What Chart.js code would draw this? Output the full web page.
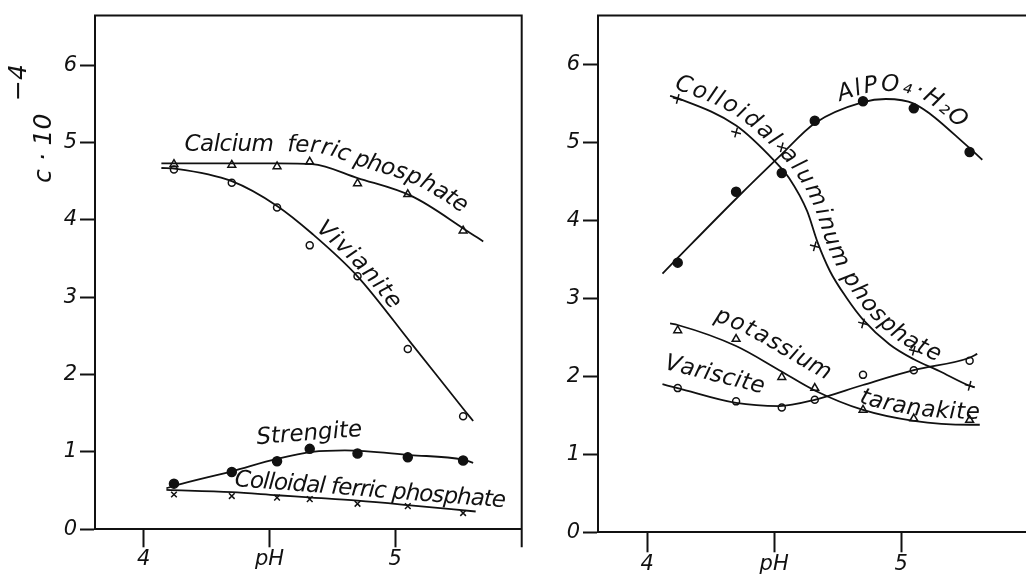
<!DOCTYPE html>
<html>
<head>
<meta charset="utf-8">
<title>Phosphate solubility versus pH</title>
<script src="https://cdn.jsdelivr.net/npm/chart.js@4"></script>
<style>
  html, body { margin: 0; padding: 0; background: #fff; overflow: hidden; }
  #wrap { position: relative; width: 1026px; height: 580px; overflow: hidden; background: #fff; }
  .panel { position: absolute; top: 0; height: 580px; }
  #left { left: 0; width: 540px; }
  #right { left: 540px; width: 500px; }
</style>
</head>
<body>
<div id="wrap">
  <div class="panel" id="left"><canvas id="chartLeft"></canvas></div>
  <div class="panel" id="right"><canvas id="chartRight"></canvas></div>
</div>
<script>
// ---- measured points (same pH values in both panels) ----
const phMeasured = [4.12, 4.35, 4.53, 4.66, 4.85, 5.05, 5.27];

// left panel: iron phosphates, c·10^-4
const calciumFerricPhosphate   = [4.72, 4.71, 4.69, 4.75, 4.47, 4.33, 3.86];
const vivianite                = [4.65, 4.48, 4.16, 3.67, 3.27, 2.33, 1.46];
const strengite                = [0.59, 0.74, 0.88, 1.04, 0.98, 0.93, 0.89];
const colloidalFerricPhosphate = [0.45, 0.43, 0.41, 0.39, 0.33, 0.30, 0.21];

// right panel: aluminium phosphates, c·10^-4
const colloidalAluminumPhosphate = [5.56, 5.13, 4.94, 3.67, 2.68, 2.33, 1.88];
const alpo4H2O                   = [3.46, 4.37, 4.61, 5.28, 5.53, 5.44, 4.88];
const potassiumTaranakite        = [2.59, 2.48, 1.99, 1.85, 1.57, 1.46, 1.44];
const variscite                  = [1.85, 1.68, 1.60, 1.70, 2.02, 2.08, 2.20];

// ---- hand-fitted smooth curves (pH, value) ----
const calciumCurvePh   = [4.07, 4.35, 4.53, 4.67, 4.85, 5.07, 5.28, 5.35];
const calciumCurveC    = [4.73, 4.73, 4.73, 4.72, 4.54, 4.30, 3.87, 3.72];
const vivianiteCurvePh = [4.07, 4.13, 4.35, 4.53, 4.67, 4.85, 5.06, 5.28, 5.31];
const vivianiteCurveC  = [4.67, 4.66, 4.50, 4.18, 3.82, 3.27, 2.42, 1.52, 1.40];
const strengiteCurvePh = [4.09, 4.13, 4.35, 4.53, 4.67, 4.80, 5.06, 5.27, 5.31];
const strengiteCurveC  = [0.53, 0.57, 0.75, 0.91, 1.00, 1.02, 0.96, 0.90, 0.86];
const colFerCurvePh    = [4.09, 4.35, 4.53, 4.67, 4.85, 5.06, 5.32];
const colFerCurveC     = [0.51, 0.48, 0.44, 0.41, 0.37, 0.31, 0.23];

const colAlCurvePh     = [4.09, 4.12, 4.35, 4.50, 4.56, 4.63, 4.67, 4.72, 4.785, 4.85, 4.955, 5.05, 5.15, 5.27, 5.29];
const colAlCurveC      = [5.60, 5.57, 5.22, 4.77, 4.54, 4.12, 3.73, 3.35, 3.01, 2.73, 2.41, 2.22, 2.07, 1.88, 1.86];
const alpo4CurvePh     = [4.06, 4.12, 4.35, 4.52, 4.66, 4.85, 4.94, 5.05, 5.27, 5.32];
const alpo4CurveC      = [3.32, 3.52, 4.28, 4.82, 5.25, 5.52, 5.56, 5.50, 4.93, 4.78];
const potassCurvePh    = [4.09, 4.12, 4.35, 4.52, 4.66, 4.85, 5.05, 5.27, 5.31];
const potassCurveC     = [2.68, 2.66, 2.39, 2.08, 1.82, 1.57, 1.43, 1.38, 1.38];
const varisCurvePh     = [4.06, 4.12, 4.35, 4.52, 4.66, 4.85, 5.05, 5.27, 5.30];
const varisCurveC      = [1.90, 1.85, 1.66, 1.62, 1.70, 1.89, 2.08, 2.24, 2.29];

// ---- axes ----
const concTicks    = [0, 1, 2, 3, 4, 5, 6];
const phTicks      = [4, 4.5, 5];
const phTickLabels = ['4', 'pH', '5'];

const FAMILY = '"DejaVu Sans", "Liberation Sans", sans-serif';
const LABEL_FONT = 'italic 23px ' + FAMILY;
const INK = '#111';

const xy = (xs, ys) => xs.map((x, i) => ({ x, y: ys[i] }));

function curve(xs, ys) {
  return {
    data: xy(xs, ys), showLine: true, pointRadius: 0, pointHoverRadius: 0,
    borderColor: INK, borderWidth: 1.8, cubicInterpolationMode: 'monotone', fill: false
  };
}
function marks(ys, style, radius, filled, rotation) {
  return {
    data: xy(phMeasured, ys), showLine: false, pointStyle: style, pointRadius: radius,
    pointRotation: rotation || 0, pointBorderColor: INK, pointBorderWidth: 1.5,
    pointBackgroundColor: filled ? INK : 'rgba(255,255,255,0)', pointHoverRadius: radius
  };
}

// ---- text along a drawn curve ----
function buildPath(chart, dsIndex) {
  const pts = chart.getDatasetMeta(dsIndex).data;
  const path = [];
  for (let i = 0; i < pts.length - 1; i++) {
    const a = pts[i], b = pts[i + 1];
    const c1x = a.cp2x ?? a.x, c1y = a.cp2y ?? a.y;
    const c2x = b.cp1x ?? b.x, c2y = b.cp1y ?? b.y;
    for (let k = 0; k < 30; k++) {
      const t = k / 30, u = 1 - t;
      path.push({
        x: u * u * u * a.x + 3 * u * u * t * c1x + 3 * u * t * t * c2x + t * t * t * b.x,
        y: u * u * u * a.y + 3 * u * u * t * c1y + 3 * u * t * t * c2y + t * t * t * b.y
      });
    }
  }
  const last = pts[pts.length - 1];
  path.push({ x: last.x, y: last.y });
  path[0].s = 0;
  for (let i = 1; i < path.length; i++) {
    path[i].s = path[i - 1].s + Math.hypot(path[i].x - path[i - 1].x, path[i].y - path[i - 1].y);
  }
  return path;
}
function arcAtX(path, px) {
  for (let i = 1; i < path.length; i++) {
    if (path[i].x >= px) {
      const p = path[i - 1], q = path[i];
      const t = (px - p.x) / ((q.x - p.x) || 1);
      return p.s + t * (q.s - p.s);
    }
  }
  return path[path.length - 1].s;
}
function pointAtS(path, s) {
  let i = 1;
  while (i < path.length - 1 && path[i].s < s) i++;
  const p = path[i - 1], q = path[i];
  const t = (s - p.s) / ((q.s - p.s) || 1);
  return { x: p.x + t * (q.x - p.x), y: p.y + t * (q.y - p.y) };
}
function drawAlong(ctx, path, text, s0, s1, gap) {
  const chars = Array.from(text);
  const ws = chars.map(c => ctx.measureText(c).width);
  const total = ws.reduce((a, b) => a + b, 0);
  const sp = chars.length > 1 ? (s1 - s0 - total) / (chars.length - 1) : 0;
  let s = s0;
  chars.forEach((c, i) => {
    const mid = s + ws[i] / 2;
    const p0 = pointAtS(path, mid - ws[i] / 2 - 2);
    const p1 = pointAtS(path, mid + ws[i] / 2 + 2);
    const pm = pointAtS(path, mid);
    const ang = Math.atan2(p1.y - p0.y, p1.x - p0.x);
    ctx.save();
    ctx.translate(pm.x, pm.y);
    ctx.rotate(ang);
    ctx.fillText(c, 0, -gap);
    ctx.restore();
    s += ws[i] + sp;
  });
}

function labelPlugin(items) {
  return {
    id: 'curveLabels',
    afterDatasetsDraw(chart) {
      const ctx = chart.ctx, xs = chart.scales.x, ys = chart.scales.y;
      ctx.save();
      ctx.font = LABEL_FONT;
      ctx.fillStyle = INK;
      ctx.textAlign = 'center';
      ctx.textBaseline = 'alphabetic';
      items.forEach(it => {
        if (it.curve !== undefined) {
          const path = buildPath(chart, it.curve);
          const s0 = arcAtX(path, xs.getPixelForValue(it.from));
          const s1 = arcAtX(path, xs.getPixelForValue(it.to));
          drawAlong(ctx, path, it.text, s0, s1, it.gap);
        } else {
          const ax = xs.getPixelForValue(it.at[0]), ay = ys.getPixelForValue(it.at[1]);
          const a = it.angle * Math.PI / 180;
          const path = [{ x: ax, y: ay, s: 0 }, { x: ax + Math.cos(a) * 1000, y: ay + Math.sin(a) * 1000, s: 1000 }];
          drawAlong(ctx, path, it.text, 0, it.width, 0);
        }
      });
      ctx.restore();
    }
  };
}

// frame: top edge, and optionally a right edge that runs past the pH axis
function framePlugin(withRight) {
  return {
    id: 'frame',
    afterDraw(chart) {
      const { left, right, top, bottom } = chart.chartArea;
      const ctx = chart.ctx;
      ctx.save();
      ctx.strokeStyle = INK;
      ctx.lineWidth = 2;
      ctx.beginPath();
      ctx.moveTo(left - 1, top);
      ctx.lineTo(right + 1, top);
      if (withRight) {
        ctx.moveTo(right, top);
        ctx.lineTo(right, bottom + 18);
      }
      ctx.stroke();
      ctx.restore();
    }
  };
}

// rotated ordinate title  c · 10^-4
const axisTitlePlugin = {
  id: 'concTitle',
  afterDraw(chart) {
    const ctx = chart.ctx;
    const base = chart.chartArea.left - 44;
    ctx.save();
    ctx.fillStyle = INK;
    ctx.font = 'italic 25px ' + FAMILY;
    ctx.translate(base, 183);
    ctx.rotate(-Math.PI / 2);
    ctx.textAlign = 'left';
    ctx.textBaseline = 'alphabetic';
    ctx.fillText('c · 10', 0, 0);
    ctx.fillText('−4', 82, -25);
    ctx.restore();
  }
};

function panelOptions(geom) {
  const tickFont = { family: FAMILY, size: 21, style: 'italic' };
  return {
    responsive: true,
    maintainAspectRatio: false,
    animation: false,
    events: [],
    layout: { padding: { top: geom.top, right: geom.right, left: 0, bottom: 0 } },
    plugins: { legend: { display: false }, tooltip: { enabled: false } },
    scales: {
      x: {
        type: 'linear', min: 3.806, max: geom.xMax,
        afterFit: s => { s.height = geom.xHeight; },
        afterBuildTicks: s => { s.ticks = phTicks.map(v => ({ value: v })); },
        ticks: {
          callback: v => phTickLabels[phTicks.indexOf(v)],
          font: tickFont, color: INK, padding: 0, maxRotation: 0, autoSkip: false
        },
        grid: { drawOnChartArea: false, drawTicks: true, tickLength: geom.xTick, tickWidth: 2, tickColor: INK },
        border: { display: true, color: INK, width: 2 }
      },
      y: {
        type: 'linear', min: 0, max: geom.yMax,
        afterFit: s => { s.width = geom.yWidth; },
        afterBuildTicks: s => { s.ticks = concTicks.map(v => ({ value: v })); },
        ticks: { font: tickFont, color: INK, padding: 3 },
        grid: { drawOnChartArea: false, drawTicks: true, tickLength: 15, tickWidth: 2, tickColor: INK },
        border: { display: true, color: INK, width: 2 }
      }
    }
  };
}

// ---- left panel ----
new Chart(document.getElementById('chartLeft'), {
  type: 'scatter',
  data: {
    datasets: [
      curve(calciumCurvePh, calciumCurveC),
      curve(vivianiteCurvePh, vivianiteCurveC),
      curve(strengiteCurvePh, strengiteCurveC),
      curve(colFerCurvePh, colFerCurveC),
      marks(calciumFerricPhosphate, 'triangle', 4.5, false),
      marks(vivianite, 'circle', 3.5, false),
      marks(strengite, 'circle', 4.5, true),
      marks(colloidalFerricPhosphate, 'crossRot', 4, false)
    ]
  },
  options: panelOptions({ top: 10.7, right: 18.3, xHeight: 50.7, yWidth: 95, xMax: 5.503, yMax: 6.64, xTick: 18 }),
  plugins: [
    framePlugin(true),
    axisTitlePlugin,
    labelPlugin([
      { text: 'Calcium  ferric phosphate', curve: 0, from: 4.162, to: 5.24, gap: 12 },
      { text: 'Vivianite', curve: 1, from: 4.67, to: 4.97, gap: 5 },
      { text: 'Strengite', at: [4.45, 1.10], angle: -4.5, width: 106 },
      { text: 'Colloidal ferric phosphate', at: [4.36, 0.56], angle: 4.5, width: 272 }
    ])
  ]
});

// ---- right panel ----
new Chart(document.getElementById('chartRight'), {
  type: 'scatter',
  data: {
    datasets: [
      curve(colAlCurvePh, colAlCurveC),
      curve(alpo4CurvePh, alpo4CurveC),
      curve(potassCurvePh, potassCurveC),
      curve(varisCurvePh, varisCurveC),
      marks(colloidalAluminumPhosphate, 'cross', 5, false, 15),
      marks(alpo4H2O, 'circle', 4.5, true),
      marks(potassiumTaranakite, 'triangle', 4.5, false),
      marks(variscite, 'circle', 3.5, false)
    ]
  },
  options: panelOptions({ top: 13.3, right: 12, xHeight: 47.7, yWidth: 58, xMax: 5.5, yMax: 6.63, xTick: 20 }),
  plugins: [
    framePlugin(false),
    labelPlugin([
      { text: 'Colloidal aluminum phosphate', curve: 0, from: 4.095, to: 5.13, gap: 8 },
      { text: 'AlPO₄·H₂O', curve: 1, from: 4.77, to: 5.21, gap: 8 },
      { text: 'potassium', curve: 2, from: 4.24, to: 4.68, gap: 15 },
      { text: 'taranakite', curve: 2, from: 4.826, to: 5.315, gap: 6 },
      { text: 'Variscite', at: [4.065, 2.10], angle: 14, width: 102 }
    ])
  ]
});
</script>
</body>
</html>
